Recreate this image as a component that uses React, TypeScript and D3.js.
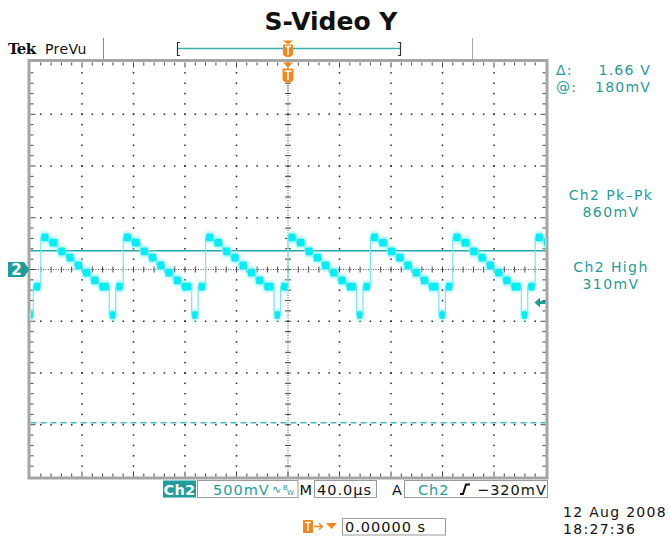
import React from "react";
import * as d3 from "d3";

const W = 669;
const H = 540;

// Ch2 luminance staircase: one TV line repeats every linePeriod µs
const lineStarts = [-256, -192, -128, -64, 0, 64, 128, 192]; // µs, rising edge after back porch
const linePeriod = 64; // µs
const stepStarts = [0, 6.4, 13.2, 19.6, 26, 32.4, 38.8, 45.2]; // µs from line start
const stepLevels = [0.31, 0.26, 0.175, 0.115, 0.04, -0.03, -0.105, -0.165]; // V
const syncStart = 53.2; // µs
const syncEnd = 58.2; // µs
const syncLevel = -0.44; // V
const blankLevel = -0.165; // V

// Horizontal bar cursors and trigger level (V)
const cursorLevels = [0.18, -1.48];
const triggerLevel = -0.32;

// Axis extents: 10 div x 40 µs, 8 div x 500 mV
const timeDomain = [-200, 200];
const voltDomain = [-2, 2];
const timeDivs = 10;
const voltDivs = 8;

// Readouts
const cursorReadout = [
  ["Δ:", "1.66 V"],
  ["@:", "180mV"],
];
const measReadout = [
  ["Ch2 Pk–Pk", "860mV"],
  ["Ch2 High", "310mV"],
];
const dateText = ["12 Aug 2008", "18:27:36"];

const X0 = 30.5;
const X1 = 545.5;
const Y0 = 62.5;
const Y1 = 476.5;

const TEAL = "#1f9c9c";
const ORANGE = "#f7861c";
const FONT = "'DejaVu Sans', Verdana, sans-serif";

type Seg = { t0: number; t1: number; v: number };

export default function App() {
  const x = d3.scaleLinear().domain(timeDomain).range([X0, X1]);
  const y = d3.scaleLinear().domain(voltDomain).range([Y1, Y0]);

  // Build flat segments of the trace
  const raw: Seg[] = [];
  lineStarts.forEach((s) => {
    stepStarts.forEach((st, i) => {
      const end = i < stepStarts.length - 1 ? stepStarts[i + 1] : syncStart;
      raw.push({ t0: s + st, t1: s + end, v: stepLevels[i] });
    });
    raw.push({ t0: s + syncStart, t1: s + syncEnd, v: syncLevel });
    raw.push({ t0: s + syncEnd, t1: s + linePeriod, v: blankLevel });
  });
  const segs = raw
    .filter((s) => s.t1 > timeDomain[0] && s.t0 < timeDomain[1])
    .map((s) => ({
      t0: Math.max(s.t0, timeDomain[0]),
      t1: Math.min(s.t1, timeDomain[1]),
      v: s.v,
    }));
  const pts: [number, number][] = [];
  segs.forEach((s) => {
    pts.push([s.t0, s.v]);
    pts.push([s.t1, s.v]);
  });
  const traceLine = d3
    .line<[number, number]>()
    .x((d) => x(d[0]))
    .y((d) => y(d[1]));

  const divW = (X1 - X0) / timeDivs;
  const divH = (Y1 - Y0) / voltDivs;
  const cx = x(0);
  const cy = y(0);

  // Graticule dots
  const dots: JSX.Element[] = [];
  for (let i = 1; i < timeDivs; i++) {
    if (i === timeDivs / 2) continue;
    const gx = X0 + i * divW;
    for (let k = 1; k < voltDivs * 5; k++) {
      const gy = Y0 + (k * divH) / 5;
      dots.push(<rect key={`v${i}-${k}`} x={gx - 0.75} y={gy - 0.75} width={1.5} height={1.5} fill="#222" />);
    }
  }
  for (let j = 1; j < voltDivs; j++) {
    if (j === voltDivs / 2) continue;
    const gy = Y0 + j * divH;
    for (let k = 1; k < timeDivs * 5; k++) {
      const gx = X0 + (k * divW) / 5;
      dots.push(<rect key={`h${j}-${k}`} x={gx - 0.75} y={gy - 0.75} width={1.5} height={1.5} fill="#222" />);
    }
  }

  // Center axes ticks and border ticks
  const ticks: JSX.Element[] = [];
  for (let k = 1; k < timeDivs * 5; k++) {
    const gx = X0 + (k * divW) / 5;
    const major = k % 5 === 0;
    ticks.push(<line key={`ct${k}`} x1={gx} x2={gx} y1={cy - 3} y2={cy + 3} stroke="#444" strokeWidth={1} />);
    ticks.push(<line key={`tt${k}`} x1={gx} x2={gx} y1={Y0} y2={Y0 + (major ? 5 : 3)} stroke="#444" strokeWidth={1} />);
    ticks.push(<line key={`bt${k}`} x1={gx} x2={gx} y1={Y1} y2={Y1 - (major ? 5 : 3)} stroke="#444" strokeWidth={1} />);
  }
  for (let k = 1; k < voltDivs * 5; k++) {
    const gy = Y0 + (k * divH) / 5;
    const major = k % 5 === 0;
    ticks.push(<line key={`cv${k}`} x1={cx - 3} x2={cx + 3} y1={gy} y2={gy} stroke="#444" strokeWidth={1} />);
    ticks.push(<line key={`lt${k}`} x1={X0} x2={X0 + (major ? 5 : 3)} y1={gy} y2={gy} stroke="#444" strokeWidth={1} />);
    ticks.push(<line key={`rt${k}`} x1={X1} x2={X1 - (major ? 5 : 3)} y1={gy} y2={gy} stroke="#444" strokeWidth={1} />);
  }

  const trigY = y(triggerLevel);

  return (
    <svg
      width={W}
      height={H}
      viewBox={`0 0 ${W} ${H}`}
      style={{ position: "absolute", left: 0, top: 0, display: "block", background: "#fff" }}
      fontFamily={FONT}
    >
      <defs>
        <filter id="haze" x="-50%" y="-50%" width="200%" height="200%">
          <feGaussianBlur stdDeviation="1.2" />
        </filter>
        <filter id="soft" x="-50%" y="-50%" width="200%" height="200%">
          <feGaussianBlur stdDeviation="0.6" />
        </filter>
      </defs>

      {/* Title */}
      <text x={331} y={30} textAnchor="middle" fontSize={25} fontWeight="bold" fill="#111">
        S-Video Y
      </text>

      {/* Status bar */}
      <text x={8} y={54} fontSize={15} fontWeight="bold" fill="#111" letterSpacing={-0.6} fontFamily="'DejaVu Serif', serif">
        Tek
      </text>
      <text x={45} y={54} fontSize={14} fill="#111" letterSpacing={0.4}>
        PreVu
      </text>
      <line x1={103.5} x2={103.5} y1={38} y2={60} stroke="#888" strokeWidth={1} />
      <line x1={472.5} x2={472.5} y1={38} y2={60} stroke="#aaa" strokeWidth={1} />
      {/* Record view */}
      <line x1={178} x2={400} y1={48.5} y2={48.5} stroke="#3aaeb0" strokeWidth={1.6} />
      <path d="M180,42.5 H177.5 V55.5 H180" fill="none" stroke="#333" strokeWidth={1.2} />
      <path d="M398,42.5 H400.5 V55.5 H398" fill="none" stroke="#333" strokeWidth={1.2} />
      <path d={`M${cx - 5},40.5 H${cx + 5} L${cx},44.5 Z`} fill={ORANGE} />
      <path d={`M${cx - 5},44.5 H${cx + 5} V53 Q${cx + 5},57 ${cx},57 Q${cx - 5},57 ${cx - 5},53 Z`} fill={ORANGE} />
      <path d={`M${cx - 3},46.5 H${cx + 3} M${cx},46.5 V55`} stroke="#fff" strokeWidth={1.5} />

      {/* Graticule frame */}
      <rect x={X0 - 1.5} y={Y0 - 2} width={X1 - X0 + 3} height={Y1 - Y0 + 3.5} fill="none" stroke="#a5a5a5" strokeWidth={3} />
      {dots}
      <line x1={X0} x2={X1} y1={cy} y2={cy} stroke="#555" strokeWidth={1} strokeDasharray="1,1.5" />
      <line x1={cx} x2={cx} y1={Y0} y2={Y1} stroke="#555" strokeWidth={1} strokeDasharray="1,1.5" />
      {ticks}

      {/* Cursors */}
      <line x1={X0} x2={X1} y1={y(cursorLevels[0])} y2={y(cursorLevels[0])} stroke="#22a6a8" strokeWidth={1.5} />
      <line x1={X0} x2={X1} y1={y(cursorLevels[1])} y2={y(cursorLevels[1])} stroke="#45bcc2" strokeWidth={1.6} strokeDasharray="6,4" />

      {/* Trace */}
      <g>
        {segs.map((s, i) => {
          const a = x(s.t0) + 0.6;
          const b = Math.max(x(s.t1) - 0.6, a + 1);
          return (
            <rect key={`h${i}`} x={a - 1} y={y(s.v) - 6} width={b - a + 2} height={12} rx={2}
              fill="#9ff3f8" opacity={0.8} filter="url(#haze)" />
          );
        })}
        <path d={traceLine(pts) || ""} fill="none" stroke="#72e9f1" strokeWidth={1.2} />
        {segs.map((s, i) => {
          const a = x(s.t0) + 0.5;
          const b = Math.max(x(s.t1) - 0.5, a + 1);
          return (
            <rect key={`c${i}`} x={a} y={y(s.v) - 3.8} width={b - a} height={7.6} rx={1.5}
              fill="#00eef6" filter="url(#soft)" />
          );
        })}
      </g>

      {/* Channel ground marker */}
      <path d={`M8,${cy - 7.5} H24 L29.5,${cy} L24,${cy + 7.5} H8 Z`} fill={TEAL} />
      <text x={16.5} y={cy + 5.5} textAnchor="middle" fontSize={15} fontWeight="bold" fill="#fff">
        2
      </text>

      {/* Trigger level marker */}
      <path d={`M${X1 - 11},${trigY} L${X1 - 5.5},${trigY - 5} V${trigY - 1.5} H${X1} V${trigY + 1.5} H${X1 - 5.5} V${trigY + 5} Z`} fill={TEAL} />

      {/* Trigger position marker */}
      <path d={`M${cx - 5},${Y0} H${cx + 5} L${cx},${Y0 + 5} Z`} fill={ORANGE} />
      <path d={`M${cx - 5.5},${Y0 + 6} H${cx + 5.5} V${Y0 + 16} Q${cx + 5.5},${Y0 + 20} ${cx},${Y0 + 20} Q${cx - 5.5},${Y0 + 20} ${cx - 5.5},${Y0 + 16} Z`} fill={ORANGE} />
      <path d={`M${cx - 3.5},${Y0 + 8.5} H${cx + 3.5} M${cx},${Y0 + 8.5} V${Y0 + 18}`} stroke="#fff" strokeWidth={1.6} />
      <line x1={cx} x2={cx} y1={Y0 + 20} y2={Y0 + 30} stroke="#999" strokeWidth={1} />

      {/* Cursor readout */}
      {cursorReadout.map((r, i) => (
        <g key={`cr${i}`} fill={TEAL} fontSize={14} letterSpacing={1.2}>
          <text x={556} y={75 + i * 16.5}>{r[0]}</text>
          <text x={651} y={75 + i * 16.5} textAnchor="end">{r[1]}</text>
        </g>
      ))}

      {/* Measurements */}
      {measReadout.map((r, i) => (
        <g key={`m${i}`} fill={TEAL} fontSize={14} letterSpacing={1.4} textAnchor="middle">
          <text x={611} y={200 + i * 72}>{r[0]}</text>
          <text x={611} y={216.8 + i * 72}>{r[1]}</text>
        </g>
      ))}

      {/* Bottom settings bar */}
      <rect x={163} y={480.5} width={33} height={17} fill={TEAL} />
      <text x={179.5} y={494.5} textAnchor="middle" fontSize={14.5} fontWeight="bold" fill="#fff" letterSpacing={0.3}>Ch2</text>
      <rect x={197.5} y={480.5} width={100.5} height={17} fill="none" stroke="#9a9a9a" strokeWidth={1} />
      <text x={213} y={494.5} fontSize={14.5} fill={TEAL} letterSpacing={1}>500mV</text>
      <text x={272} y={493} fontSize={11} fill={TEAL}>∿</text>
      <text x={283} y={490} fontSize={7} fill={TEAL}>B</text>
      <text x={287} y={495} fontSize={7} fill={TEAL}>W</text>
      <text x={299.5} y={494.5} fontSize={14.5} fill="#111">M</text>
      <rect x={314.5} y={480.5} width={62} height={17} fill="none" stroke="#9a9a9a" strokeWidth={1} />
      <text x={317} y={494.5} fontSize={14.5} fill="#111" letterSpacing={1}>40.0µs</text>
      <text x={392} y={494.5} fontSize={14.5} fill="#111">A</text>
      <rect x={404.5} y={480.5} width={143} height={17} fill="none" stroke="#9a9a9a" strokeWidth={1} />
      <text x={418} y={494.5} fontSize={14.5} fill={TEAL} letterSpacing={1}>Ch2</text>
      <path d="M460,494 H463 L466,484.5 H470" fill="none" stroke="#111" strokeWidth={2} />
      <text x={477} y={494.5} fontSize={14.5} fill="#111" letterSpacing={1}>−320mV</text>

      {/* Trigger position readout */}
      <rect x={303} y={520} width={10} height={13} rx={1} fill={ORANGE} />
      <path d="M305,522.5 H311 M308,522.5 V531" stroke="#fff" strokeWidth={1.5} />
      <path d="M314,526.5 H322 M319,523.5 L322.5,526.5 L319,529.5" fill="none" stroke={ORANGE} strokeWidth={1.3} />
      <path d="M326,523 H337 L331.5,529 Z" fill={ORANGE} />
      <rect x={342.5} y={518.5} width={103} height={16.5} fill="none" stroke="#9a9a9a" strokeWidth={1} />
      <text x={345} y={532} fontSize={14.5} fill="#111" letterSpacing={1}>0.00000 s</text>

      {/* Date and time */}
      <text x={563} y={517} fontSize={14} fill="#111" letterSpacing={1.3}>{dateText[0]}</text>
      <text x={563} y={533.5} fontSize={14} fill="#111" letterSpacing={1.3}>{dateText[1]}</text>
    </svg>
  );
}
